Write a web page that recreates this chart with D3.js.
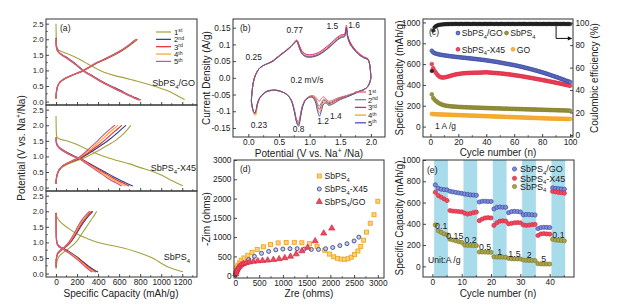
<!DOCTYPE html>
<html><head><meta charset="utf-8">
<script src="https://cdn.jsdelivr.net/npm/d3@7"></script>
<style>
body{margin:0;background:#fff}
svg{display:block}
text{font-family:"Liberation Sans",Arial,Helvetica,sans-serif;fill:#222}
</style>
</head><body>
<svg id="chart" width="627" height="306"></svg>
<script>
// ================= DATA =================
// (a) galvanostatic curves: [capacity mAh/g, potential V], cycles 1..5
const cycleNames = ["1{^st}","2{^nd}","3{^rd}","4{^th}","5{^th}"];
const aSubLabels = ["SbPS{_4}/GO","SbPS{_4}-X45","SbPS{_4}"];
const aCapTicks = [0,200,400,600,800,1000,1200];
const aVTicks = [0,0.5,1,1.5,2,2.5];

const aGOdis = [
 [[0,2.5],[2,2.1],[6,1.8],[20,1.67],[60,1.6],[120,1.52],[200,1.4],[280,1.25],[360,1.1],[450,0.95],[550,0.84],[650,0.76],[740,0.68],[850,0.58],[960,0.47],[1050,0.36],[1120,0.25],[1180,0.14],[1222,0.06]],
 [[0,2.05],[3,1.8],[10,1.68],[25,1.6],[60,1.5],[100,1.42],[150,1.3],[200,1.17],[260,1.0],[330,0.86],[420,0.68],[510,0.52],[610,0.36],[700,0.2],[760,0.12],[805,0.05]],
 [[0,2.0],[3,1.78],[10,1.67],[25,1.59],[60,1.49],[100,1.41],[150,1.29],[200,1.16],[260,0.99],[330,0.85],[420,0.67],[510,0.51],[605,0.35],[695,0.2],[755,0.11],[800,0.05]],
 [[0,2.0],[3,1.78],[10,1.66],[25,1.58],[60,1.49],[100,1.4],[150,1.28],[200,1.15],[260,0.99],[330,0.84],[415,0.67],[505,0.51],[600,0.35],[690,0.2],[750,0.11],[795,0.05]],
 [[0,1.98],[3,1.77],[10,1.66],[25,1.58],[60,1.48],[100,1.4],[150,1.28],[200,1.15],[255,0.99],[325,0.84],[410,0.67],[500,0.51],[595,0.35],[685,0.2],[745,0.11],[790,0.05]]
];
const aGOchg = [
 [[0,0.1],[3,0.25],[10,0.42],[30,0.58],[70,0.7],[130,0.8],[200,0.9],[260,0.98],[330,1.12],[400,1.25],[480,1.37],[560,1.5],[625,1.62],[690,1.77],[740,1.9],[775,2.0]],
 [[0,0.1],[3,0.26],[10,0.43],[30,0.59],[70,0.71],[130,0.81],[200,0.91],[260,0.99],[330,1.13],[400,1.26],[480,1.38],[555,1.51],[620,1.63],[685,1.78],[735,1.91],[770,2.0]],
 [[0,0.1],[3,0.26],[10,0.43],[30,0.59],[70,0.71],[130,0.81],[200,0.91],[258,0.99],[328,1.13],[398,1.26],[476,1.38],[552,1.51],[617,1.63],[682,1.78],[732,1.91],[767,2.0]],
 [[0,0.1],[3,0.26],[10,0.43],[30,0.59],[70,0.71],[130,0.81],[198,0.91],[256,0.99],[326,1.13],[395,1.26],[473,1.38],[549,1.51],[614,1.63],[679,1.78],[729,1.91],[764,2.0]],
 [[0,0.1],[3,0.26],[10,0.43],[30,0.59],[70,0.71],[128,0.81],[196,0.91],[254,0.99],[324,1.13],[393,1.26],[470,1.38],[546,1.51],[611,1.63],[676,1.78],[726,1.91],[761,2.0]]
];
const aX45dis = [
 [[0,2.3],[2,1.9],[6,1.65],[20,1.58],[100,1.5],[200,1.38],[300,1.22],[400,1.07],[500,0.95],[600,0.85],[700,0.76],[800,0.64],[900,0.54],[1000,0.4],[1080,0.26],[1150,0.14],[1206,0.06]],
 [[0,1.62],[5,1.44],[20,1.33],[60,1.22],[120,1.1],[180,1.0],[240,0.92],[310,0.79],[390,0.64],[470,0.49],[550,0.34],[630,0.2],[690,0.11],[730,0.05]],
 [[0,1.6],[5,1.42],[20,1.32],[60,1.21],[120,1.09],[180,0.99],[235,0.92],[300,0.79],[375,0.64],[450,0.49],[525,0.34],[600,0.2],[660,0.11],[695,0.05]],
 [[0,1.6],[5,1.41],[20,1.31],[60,1.2],[120,1.08],[175,0.99],[230,0.92],[290,0.79],[360,0.64],[430,0.49],[500,0.34],[570,0.2],[625,0.11],[660,0.05]],
 [[0,1.58],[5,1.4],[20,1.3],[60,1.19],[115,1.08],[170,0.99],[225,0.92],[280,0.79],[345,0.64],[410,0.49],[475,0.34],[540,0.2],[595,0.11],[625,0.05]]
];
const aX45chg = [
 [[0,0.12],[5,0.3],[20,0.48],[50,0.62],[100,0.73],[170,0.83],[240,0.92],[320,1.04],[400,1.18],[480,1.34],[560,1.5],[620,1.66],[670,1.83],[711,2.0]],
 [[0,0.12],[5,0.32],[20,0.5],[50,0.65],[100,0.76],[170,0.86],[230,0.94],[300,1.07],[370,1.22],[440,1.38],[510,1.55],[570,1.72],[620,1.87],[665,2.0]],
 [[0,0.12],[5,0.32],[20,0.5],[50,0.65],[100,0.76],[165,0.86],[225,0.95],[290,1.08],[355,1.24],[420,1.4],[480,1.57],[535,1.74],[585,1.88],[625,2.0]],
 [[0,0.12],[5,0.32],[20,0.5],[50,0.65],[100,0.77],[160,0.87],[220,0.96],[280,1.1],[340,1.26],[400,1.43],[455,1.6],[505,1.76],[550,1.89],[590,2.0]],
 [[0,0.12],[5,0.33],[20,0.51],[50,0.66],[100,0.77],[155,0.87],[215,0.97],[270,1.11],[325,1.28],[380,1.45],[430,1.62],[480,1.78],[522,1.9],[560,2.0]]
];
const aSdis = [
 [[0,1.95],[5,1.85],[20,1.75],[60,1.6],[120,1.45],[200,1.27],[300,1.12],[420,0.98],[530,0.9],[640,0.82],[760,0.7],[860,0.58],[940,0.46],[1000,0.33],[1060,0.22],[1130,0.13],[1206,0.06]],
 [[0,1.95],[1,1.6],[3,1.2],[8,1.02],[20,0.92],[50,0.84],[90,0.77],[140,0.67],[200,0.53],[260,0.37],[320,0.21],[370,0.1],[400,0.05]],
 [[0,1.93],[1,1.58],[3,1.18],[8,1.0],[20,0.91],[50,0.83],[90,0.76],[135,0.66],[190,0.53],[250,0.37],[305,0.21],[352,0.1],[380,0.05]],
 [[0,1.92],[1,1.57],[3,1.17],[8,1.0],[20,0.9],[50,0.82],[85,0.75],[130,0.66],[185,0.53],[240,0.37],[295,0.21],[340,0.1],[365,0.05]],
 [[0,1.9],[1,1.55],[3,1.15],[8,0.98],[20,0.89],[50,0.81],[85,0.74],[125,0.65],[175,0.52],[230,0.37],[280,0.21],[322,0.1],[345,0.05]]
];
const aSchg = [
 [[0,0.15],[10,0.4],[30,0.55],[60,0.65],[100,0.75],[150,0.88],[200,1.05],[250,1.3],[300,1.55],[340,1.75],[370,1.9],[387,2.0]],
 [[0,0.2],[3,0.45],[15,0.62],[40,0.72],[80,0.82],[130,0.97],[180,1.2],[230,1.48],[270,1.68],[310,1.85],[350,2.0]],
 [[0,0.22],[3,0.46],[15,0.63],[40,0.73],[80,0.83],[128,0.98],[176,1.22],[224,1.5],[262,1.7],[300,1.86],[340,2.0]],
 [[0,0.24],[3,0.47],[15,0.64],[40,0.74],[80,0.84],[125,1.0],[172,1.24],[218,1.52],[255,1.71],[292,1.87],[330,2.0]],
 [[0,0.26],[3,0.48],[15,0.65],[40,0.75],[78,0.85],[122,1.01],[168,1.26],[212,1.54],[248,1.73],[285,1.88],[320,2.0]]
];

// (b) cyclic voltammetry
const cvVTicks = [0,0.5,1,1.5,2];
const cvVTickLabels = ["0.0","0.5","1.0","1.5","2.0"];
const cvITicks = [-0.15,-0.1,-0.05,0,0.05,0.1,0.15];
const cvITickLabels = ["-0.15","-0.1","-0.05","0.0","0.05","0.1","0.15"];
const cvUpV = [0.05,0.06,0.08,0.12,0.19,0.28,0.38,0.52,0.62,0.7,0.75,0.79,0.83,0.88,0.95,1.05,1.15,1.25,1.35,1.45,1.52,1.57,1.6,1.62,1.66,1.72,1.8,1.88,1.95,1.98,2.0];
const cvUpI = [
 [-0.07,-0.045,-0.015,0.01,0.03,0.04,0.048,0.068,0.082,0.095,0.105,0.112,0.095,0.075,0.066,0.066,0.072,0.085,0.1,0.118,0.126,0.13,0.158,0.125,0.105,0.088,0.072,0.062,0.056,0.04,0.0],
 [-0.07,-0.045,-0.015,0.01,0.03,0.04,0.048,0.068,0.082,0.095,0.105,0.11,0.092,0.072,0.064,0.064,0.07,0.082,0.097,0.115,0.123,0.125,0.145,0.124,0.102,0.086,0.07,0.061,0.055,0.04,0.0],
 [-0.07,-0.045,-0.015,0.01,0.03,0.04,0.049,0.069,0.083,0.096,0.106,0.113,0.098,0.079,0.07,0.07,0.076,0.089,0.104,0.121,0.129,0.13,0.152,0.128,0.107,0.09,0.074,0.063,0.057,0.04,0.0],
 [-0.07,-0.045,-0.015,0.01,0.03,0.04,0.047,0.067,0.081,0.094,0.104,0.108,0.09,0.07,0.062,0.062,0.068,0.08,0.095,0.112,0.12,0.122,0.135,0.12,0.1,0.085,0.07,0.06,0.054,0.04,0.0],
 [-0.068,-0.044,-0.015,0.01,0.03,0.04,0.047,0.067,0.081,0.094,0.104,0.109,0.091,0.071,0.063,0.063,0.069,0.081,0.096,0.113,0.121,0.124,0.148,0.122,0.101,0.086,0.07,0.06,0.055,0.04,0.0]
];
const cvLoV = [2.0,1.98,1.94,1.88,1.8,1.7,1.6,1.5,1.42,1.36,1.31,1.27,1.23,1.19,1.16,1.13,1.09,1.04,0.98,0.93,0.88,0.85,0.82,0.79,0.75,0.7,0.63,0.55,0.46,0.38,0.3,0.24,0.19,0.15,0.12,0.1,0.08,0.06,0.05];
const cvLoI = [
 [0.0,-0.015,-0.028,-0.035,-0.04,-0.047,-0.053,-0.058,-0.063,-0.068,-0.07,-0.064,-0.057,-0.062,-0.07,-0.066,-0.056,-0.053,-0.057,-0.065,-0.085,-0.11,-0.13,-0.125,-0.095,-0.065,-0.05,-0.042,-0.038,-0.038,-0.042,-0.05,-0.06,-0.08,-0.105,-0.108,-0.1,-0.085,-0.07],
 [0.0,-0.015,-0.028,-0.035,-0.041,-0.048,-0.055,-0.06,-0.066,-0.072,-0.074,-0.068,-0.064,-0.075,-0.085,-0.077,-0.061,-0.055,-0.058,-0.066,-0.087,-0.114,-0.135,-0.128,-0.097,-0.066,-0.05,-0.042,-0.038,-0.038,-0.041,-0.049,-0.059,-0.078,-0.103,-0.107,-0.099,-0.084,-0.069],
 [0.0,-0.015,-0.028,-0.036,-0.041,-0.049,-0.056,-0.062,-0.069,-0.075,-0.077,-0.07,-0.068,-0.084,-0.094,-0.085,-0.064,-0.056,-0.059,-0.067,-0.088,-0.117,-0.14,-0.131,-0.098,-0.067,-0.05,-0.042,-0.037,-0.037,-0.041,-0.049,-0.059,-0.077,-0.102,-0.106,-0.099,-0.083,-0.069],
 [0.0,-0.015,-0.028,-0.036,-0.042,-0.05,-0.057,-0.064,-0.072,-0.078,-0.08,-0.073,-0.073,-0.092,-0.104,-0.092,-0.067,-0.057,-0.059,-0.067,-0.089,-0.118,-0.138,-0.132,-0.099,-0.067,-0.05,-0.042,-0.037,-0.037,-0.04,-0.048,-0.058,-0.076,-0.112,-0.11,-0.1,-0.083,-0.068],
 [0.0,-0.015,-0.028,-0.036,-0.042,-0.05,-0.058,-0.065,-0.074,-0.08,-0.082,-0.075,-0.078,-0.1,-0.115,-0.1,-0.07,-0.058,-0.06,-0.068,-0.09,-0.12,-0.145,-0.135,-0.1,-0.068,-0.05,-0.042,-0.037,-0.037,-0.04,-0.048,-0.058,-0.075,-0.1,-0.105,-0.098,-0.082,-0.068]
];

// (c) cycling at 1 A/g, cycles 1..100
const cyTicks = [0,20,40,60,80,100];
const capTicks = [0,200,400,600,800,1000];
const ceTicks = [0,20,40,60,80,100];
const cycGO = [728,712,705,700,697,693,690,688,686,684,682,680,678,676,675,673,671,670,668,667,665,664,662,661,660,658,657,655,654,652,651,649,648,646,645,643,641,640,638,636,634,632,630,628,626,624,622,620,617,615,612,610,607,605,602,600,597,595,592,590,587,584,581,578,575,572,568,565,562,558,555,551,548,544,540,537,533,529,525,521,517,513,508,504,499,495,490,486,481,476,472,467,462,457,452,447,442,437,433,428];
const cycX45 = [600,560,535,515,498,485,476,472,471,472,475,478,482,486,490,494,497,500,503,505,507,509,511,512,513,514,515,515,516,516,517,517,517,518,518,519,519,520,521,522,521,519,518,517,516,515,514,513,512,511,509,508,506,505,503,502,500,498,496,494,492,490,488,486,484,482,479,477,475,472,470,468,465,463,460,458,455,453,450,448,445,443,440,437,435,432,429,427,424,421,418,416,413,410,407,404,401,398,395,392];
const cycS = [310,275,258,245,235,226,219,213,208,204,201,199,197,195,194,193,192,191,190,189,188,188,187,186,186,185,185,184,184,183,183,182,182,181,181,180,180,179,179,178,178,177,177,176,176,175,175,175,174,174,173,173,172,172,172,171,171,170,170,170,169,169,168,168,168,167,167,166,166,166,165,165,164,164,164,163,163,162,162,162,161,161,160,160,160,159,159,158,158,158,157,157,156,156,156,155,155,154,154,153];
const cycGOonly = [122,120,119,118,118,117,117,116,116,115,115,114,114,113,113,112,112,111,111,110,110,109,109,108,108,107,107,106,106,105,105,104,104,103,103,102,102,101,101,100,100,99,99,98,98,97,97,96,96,95,95,94,94,93,93,92,92,91,91,90,90,89,89,88,88,87,87,86,86,85,85,84,84,83,83,82,82,81,81,80,80,79,79,78,78,77,77,77,76,76,76,75,75,75,74,74,74,73,73,73];
const cycCE = [57,93,96,97,97.6,98,98.2,98.4,98.5,98.6,98.7,98.8,98.7,98.9,98.8,98.9,98.8,99,98.9,98.8,98.9,99,98.9,98.8,99,98.9,99,98.9,98.8,98.9,99,98.9,98.9,98.8,99,98.9,98.8,98.9,99,98.9,98.8,98.9,99,98.9,98.9,98.8,99,98.9,98.8,98.9,99,98.9,98.8,98.9,98.9,99,98.8,98.9,99,98.9,98.8,98.9,98.9,99,98.8,98.9,99,98.9,98.8,98.9,98.9,99,98.8,98.9,98.9,99,98.8,98.9,98.9,98.8,99,98.9,98.8,98.9,99,98.9,98.8,98.9,98.9,99,98.8,98.9,98.9,98.8,99,98.9,98.8,98.9,98.9,98.8];

// (d) Nyquist plots: [Zre, -Zim] in ohms
const zTicks = [0,500,1000,1500,2000,2500,3000];
const eisS = [[5,50],[15,120],[30,200],[50,260],[80,330],[120,400],[180,460],[260,530],[350,600],[460,680],[590,750],[740,810],[900,850],[1070,860],[1240,865],[1400,855],[1560,830],[1720,760],[1880,660],[1980,560],[2070,490],[2150,450],[2230,430],[2300,425],[2370,440],[2440,480],[2510,550],[2580,640],[2640,760],[2700,920],[2760,1130],[2840,1360],[2920,1580],[3000,1930]];
const eisX45 = [[5,30],[20,80],[50,150],[100,230],[180,320],[280,420],[400,500],[550,580],[700,630],[850,670],[1000,690],[1150,700],[1300,700],[1450,690],[1600,680],[1750,680],[1900,700],[2050,730],[2200,780],[2350,830],[2500,900],[2600,1000]];
const eisGO = [[5,40],[15,90],[30,140],[50,190],[80,240],[120,280],[170,310],[230,335],[300,355],[380,370],[470,380],[570,390],[680,400],[800,415],[920,435],[1040,460],[1160,500],[1280,560],[1400,640],[1520,730],[1680,900],[1860,1100],[2030,1230]];

// (e) rate capability, 5 cycles per current density
const rateCurrents = ["0.1","0.15","0.2","0.5","1","1.5","2","5","0.1"];
const rateXTicks = [0,10,20,30,40];
const rateYTicks = [0,200,400,600,800,1000];
const rateGO = [766,734,725,722,719, 706,700,695,690,686, 680,676,672,670,668, 605,612,612,610,610, 540,555,558,556,555, 505,515,517,515,512, 485,488,487,485,483, 355,365,367,366,365, 738,733,730,728,725];
const rateX45 = [697,666,650,634,619, 525,520,518,515,513, 500,492,497,505,510, 430,445,455,458,455, 385,410,425,428,425, 400,405,410,412,410, 390,385,388,392,395, 290,305,308,305,303, 705,700,695,692,688];
const rateS = [390,335,320,305,297, 255,248,240,232,225, 200,198,197,196,195, 135,135,134,133,132, 90,88,87,87,86, 75,72,71,70,70, 60,57,56,55,55, 25,23,22,22,22, 255,248,245,243,240];
const rateBands = [[0.6,5.3],[10.6,15.3],[20.6,25.3],[30.6,35.3],[40.6,45.3]];

// ================= DRAWING =================
const svg = d3.select("#chart");
const FS_TICK = 8.3, FS_TITLE = 10, FS_LEG = 8.6;
const INK = "#333";

function rich(t, str, fs, supK){
  const re=/\{([_^])([^}]*)\}/g; let last=0,m; const parts=[];
  while((m=re.exec(str))){ if(m.index>last) parts.push({t:str.slice(last,m.index),k:""}); parts.push({t:m[2],k:m[1]}); last=re.lastIndex; }
  if(last<str.length) parts.push({t:str.slice(last),k:""});
  let shift=0;
  parts.forEach(p=>{
    const ts=t.append("tspan").text(p.t);
    const target = p.k==="_"? fs*0.28 : p.k==="^"? -fs*(supK||0.42) : 0;
    const dy=target-shift; if(dy) ts.attr("dy",dy.toFixed(2)); shift=target;
    if(p.k) ts.attr("font-size",(fs*0.66).toFixed(2));
  });
}
function label(g,x,y,str,o={}){
  const fs=o.fs||FS_LEG;
  const t=g.append("text").attr("x",x).attr("y",y).attr("font-size",fs).attr("text-anchor",o.anchor||"start");
  if(o.rot) t.attr("transform",`rotate(${o.rot},${x},${y})`);
  rich(t,str,fs,o.supK); return t;
}
function styleAxis(g,fs){
  g.select(".domain").remove();
  g.selectAll("line").attr("stroke",INK).attr("stroke-width",0.9);
  g.selectAll("text").attr("font-size",fs||FS_TICK).attr("fill","#222").style("font-family",'"Liberation Sans",Arial,sans-serif');
}
function frame(x0,y0,x1,y1){
  svg.append("rect").attr("x",x0).attr("y",y0).attr("width",x1-x0).attr("height",y1-y0)
    .attr("fill","none").attr("stroke",INK).attr("stroke-width",1);
}
function minor(g,scale,vals,orient,pos,len){
  vals.forEach(v=>{
    const p=scale(v);
    if(orient==="bottom") g.append("line").attr("x1",p).attr("x2",p).attr("y1",pos).attr("y2",pos-len).attr("stroke",INK).attr("stroke-width",0.8);
    else if(orient==="left") g.append("line").attr("y1",p).attr("y2",p).attr("x1",pos).attr("x2",pos+len).attr("stroke",INK).attr("stroke-width",0.8);
  });
}

// ---------- (a) ----------
const aColors = ["#a3a23e","#2e3a8f","#e8262b","#f5a623","#d0508a"];
const aX = d3.scaleLinear().domain([-95,1340]).range([46,197]);
const aPanels = [
  {y0:19,y1:105,dis:aGOdis,chg:aGOchg},
  {y0:105,y1:191,dis:aX45dis,chg:aX45chg},
  {y0:191,y1:277,dis:aSdis,chg:aSchg}
];
const lineA = (ys)=>d3.line().x(d=>aX(d[0])).y(d=>ys(d[1])).curve(d3.curveMonotoneX);
aPanels.forEach((p,i)=>{
  const ys = d3.scaleLinear().domain([-0.11,2.65]).range([p.y1,p.y0]);
  const g=svg.append("g");
  for(let c=0;c<5;c++){
    g.append("path").attr("d",lineA(ys)(p.dis[c])).attr("fill","none").attr("stroke",aColors[c]).attr("stroke-width",1.1);
    g.append("path").attr("d",lineA(ys)(p.chg[c])).attr("fill","none").attr("stroke",aColors[c]).attr("stroke-width",1.1);
  }
  const gy=svg.append("g").attr("transform","translate(46,0)")
    .call(d3.axisLeft(ys).tickValues(aVTicks).tickFormat(d3.format(".1f")).tickSize(-3).tickPadding(2.5));
  styleAxis(gy,7.8);
  minor(svg,ys,[0.25,0.75,1.25,1.75,2.25],"left",46,1.8);
  const gx=svg.append("g").attr("transform",`translate(0,${p.y1})`)
    .call(d3.axisBottom(aX).tickValues(aCapTicks).tickFormat(i===2?d3.format("d"):"").tickSize(-3).tickPadding(2.5));
  styleAxis(gx);
  minor(svg,aX,[100,300,500,700,900,1100,1300],"bottom",p.y1,1.8);
});
frame(46,19,197,105); frame(46,105,197,191); frame(46,191,197,277);
label(svg,60,31,"(a)",{fs:8.6});
label(svg,195,86,aSubLabels[0],{fs:9,anchor:"end"});
label(svg,196,171,aSubLabels[1],{fs:9,anchor:"end"});
label(svg,190,260,aSubLabels[2],{fs:9,anchor:"end"});
cycleNames.forEach((n,i)=>{
  const y=32+i*7.35;
  svg.append("line").attr("x1",156).attr("x2",171).attr("y1",y).attr("y2",y).attr("stroke",aColors[i]).attr("stroke-width",1.2);
  label(svg,174,y+2.8,n,{fs:7.8,supK:0.3});
});
label(svg,25,148,"Potential (V vs. Na{^+}/Na)",{fs:FS_TITLE,anchor:"middle",rot:-90});
label(svg,121,297,"Specific Capacity (mAh/g)",{fs:FS_TITLE,anchor:"middle"});

// ---------- (b) ----------
const bColors = ["#ec5b72","#6f8f80","#e3216c","#f2a623","#5450b4"];
const bX = d3.scaleLinear().domain([-0.25,2.23]).range([233,385]);
const bY = d3.scaleLinear().domain([-0.177,0.176]).range([137,19]);
const cvLine = d3.line().x(d=>bX(d[0])).y(d=>bY(d[1])).curve(d3.curveCatmullRom.alpha(0.5));
for(let c=0;c<5;c++){
  const pts = cvLoV.map((v,k)=>[v,cvLoI[c][k]]).concat(cvUpV.map((v,k)=>[v,cvUpI[c][k]]).slice(1));
  svg.append("path").attr("d",cvLine(pts)).attr("fill","none").attr("stroke",bColors[c]).attr("stroke-width",1);
}
{
  const gy=svg.append("g").attr("transform","translate(233,0)")
    .call(d3.axisLeft(bY).tickValues(cvITicks).tickFormat((d,i)=>cvITickLabels[i]).tickSize(-3).tickPadding(2.5));
  styleAxis(gy);
  const gx=svg.append("g").attr("transform","translate(0,137)")
    .call(d3.axisBottom(bX).tickValues(cvVTicks).tickFormat((d,i)=>cvVTickLabels[i]).tickSize(-3).tickPadding(2.5));
  styleAxis(gx);
  minor(svg,bX,[0.25,0.75,1.25,1.75],"bottom",137,1.8);
}
frame(233,19,385,137);
label(svg,240,31,"(b)",{fs:8.6});
[["0.25",0.25,0.038,-10,-5],["0.77",0.79,0.112,-2,-7],["1.5",1.5,0.13,-8,-5],["1.6",1.61,0.158,7,3],
 ["0.23",0.14,-0.11,2,13],["0.8",0.82,-0.145,0,6],["1.2",1.17,-0.1,3,13],["1.4",1.33,-0.08,6,14]].forEach(a=>{
  svg.append("text").attr("x",bX(a[1])+a[3]).attr("y",bY(a[2])+a[4]).attr("text-anchor","middle").attr("font-size",8.4).text(a[0]);
});
svg.append("text").attr("x",307).attr("y",83).attr("text-anchor","middle").attr("font-size",8.4).text("0.2 mV/s");
cycleNames.forEach((n,i)=>{
  const y=92+i*7.7;
  svg.append("line").attr("x1",355).attr("x2",366).attr("y1",y).attr("y2",y).attr("stroke",bColors[i]).attr("stroke-width",1.3);
  label(svg,368,y+2.8,n,{fs:7.6,supK:0.3});
});
label(svg,210,78,"Current Density (A/g)",{fs:FS_TITLE,anchor:"middle",rot:-90});
label(svg,309,157,"Potential (V vs. Na{^+} /Na)",{fs:FS_TITLE,anchor:"middle"});

// ---------- (c) ----------
const cX = d3.scaleLinear().domain([-5.3,102.1]).range([423,573]);
const cY = d3.scaleLinear().domain([-100,1033]).range([137,19]);
const cYR = d3.scaleLinear().domain([-1.8,103.3]).range([137,19]);
const cycIdx = d3.range(1,101);
const cSeries = [
  {v:cycGOonly,fill:"#f9b43a",stroke:"#f0a020"},
  {v:cycS,fill:"#9d9840",stroke:"#7f7a2a"},
  {v:cycX45,fill:"#ee4a5e",stroke:"#d92a45"},
  {v:cycGO,fill:"#6f7cc8",stroke:"#2f3f98"}
];
cSeries.forEach(s=>{
  svg.append("g").selectAll("circle").data(s.v).join("circle")
    .attr("cx",(d,i)=>cX(cycIdx[i])).attr("cy",d=>cY(d)).attr("r",1.9)
    .attr("fill",s.fill).attr("stroke",s.stroke).attr("stroke-width",0.6);
});
svg.append("g").selectAll("circle").data(cycCE).join("circle")
  .attr("cx",(d,i)=>cX(cycIdx[i])).attr("cy",d=>cYR(d)).attr("r",1.8)
  .attr("fill","#2a2a2a").attr("stroke","#111").attr("stroke-width",0.5);
{
  const gy=svg.append("g").attr("transform","translate(423,0)")
    .call(d3.axisLeft(cY).tickValues(capTicks).tickFormat(d3.format("d")).tickSize(-3).tickPadding(2.5));
  styleAxis(gy);
  const gr=svg.append("g").attr("transform","translate(573,0)")
    .call(d3.axisRight(cYR).tickValues(ceTicks).tickFormat(d3.format("d")).tickSize(-3).tickPadding(2.5));
  styleAxis(gr);
  const gx=svg.append("g").attr("transform","translate(0,137)")
    .call(d3.axisBottom(cX).tickValues(cyTicks).tickFormat(d3.format("d")).tickSize(-3).tickPadding(2.5));
  styleAxis(gx);
  minor(svg,cX,[10,30,50,70,90],"bottom",137,1.8);
}
frame(423,19,573,137);
{
  const ax=cX(90), ay1=cYR(97), ay2=cYR(86);
  svg.append("path").attr("d",`M${ax},${ay1}V${ay2}H${cX(100.5)}`).attr("fill","none").attr("stroke","#111").attr("stroke-width",1);
  const hx=cX(101.6);
  svg.append("path").attr("d",`M${hx},${ay2}l-4.5,-2.2v4.4z`).attr("fill","#111");
}
label(svg,429,35,"(c)",{fs:8.6});
[[458,33,"#6f7cc8","#2f3f98","SbPS{_4}/GO"],[506.5,33,"#9d9840","#7f7a2a","SbPS{_4}"],
 [458,49.3,"#ee4a5e","#d92a45","SbPS{_4}-X45"],[513,49.3,"#f9b43a","#f0a020","GO"]].forEach(l=>{
  svg.append("circle").attr("cx",l[0]).attr("cy",l[1]).attr("r",1.9).attr("fill",l[2]).attr("stroke",l[3]).attr("stroke-width",0.8);
  label(svg,l[0]+3.8,l[1]+3.2,l[4],{fs:FS_LEG});
});
svg.append("text").attr("x",435).attr("y",129).attr("font-size",8.4).text("1 A /g");
label(svg,403,78,"Specific Capacity (mAh/g)",{fs:FS_TITLE,anchor:"middle",rot:-90});
label(svg,598,78,"Coulombic efficiency (%)",{fs:FS_TITLE,anchor:"middle",rot:-90});
label(svg,498,156,"Cycle number (n)",{fs:FS_TITLE,anchor:"middle"});

// ---------- (d) ----------
const dX = d3.scaleLinear().domain([-30,3130]).range([234,384]);
const dY = d3.scaleLinear().domain([-60,3000]).range([278,160]);
svg.append("g").selectAll("rect").data(eisS).join("rect")
  .attr("x",d=>dX(d[0])-2).attr("y",d=>dY(d[1])-2).attr("width",4).attr("height",4)
  .attr("fill","#fbd27a").attr("stroke","#efa526").attr("stroke-width",0.9);
svg.append("g").selectAll("circle").data(eisX45).join("circle")
  .attr("cx",d=>dX(d[0])).attr("cy",d=>dY(d[1])).attr("r",2)
  .attr("fill","#c5cbe6").attr("stroke","#3d4a8e").attr("stroke-width",0.9);
const tri = d3.symbol().type(d3.symbolTriangle).size(16);
svg.append("g").selectAll("path").data(eisGO).join("path")
  .attr("transform",d=>`translate(${dX(d[0])},${dY(d[1])})`).attr("d",tri())
  .attr("fill","#ef4a5c").attr("stroke","#d81f3e").attr("stroke-width",0.7);
{
  const gy=svg.append("g").attr("transform","translate(234,0)")
    .call(d3.axisLeft(dY).tickValues(zTicks).tickFormat(d3.format("d")).tickSize(-3).tickPadding(2.5));
  styleAxis(gy);
  const gx=svg.append("g").attr("transform","translate(0,278)")
    .call(d3.axisBottom(dX).tickValues(zTicks).tickFormat(d3.format("d")).tickSize(-3).tickPadding(2.5));
  styleAxis(gx);
  minor(svg,dX,[250,750,1250,1750,2250,2750],"bottom",278,1.8);
}
frame(234,160,384,278);
label(svg,240,172,"(d)",{fs:8.6});
svg.append("rect").attr("x",317.3).attr("y",174).attr("width",4).attr("height",4).attr("fill","#fbd27a").attr("stroke","#efa526").attr("stroke-width",0.9);
svg.append("circle").attr("cx",319.3).attr("cy",189).attr("r",2).attr("fill","#c5cbe6").attr("stroke","#3d4a8e").attr("stroke-width",0.9);
svg.append("path").attr("transform","translate(319.3,201.7)").attr("d",tri()).attr("fill","#ef4a5c").attr("stroke","#d81f3e").attr("stroke-width",0.7);
label(svg,324.5,179.2,"SbPS{_4}",{fs:FS_LEG});
label(svg,324.5,192.2,"SbPS{_4}-X45",{fs:FS_LEG});
label(svg,324.5,204.9,"SbPS{_4}/GO",{fs:FS_LEG});
label(svg,210,219,"-Zim (ohms)",{fs:FS_TITLE,anchor:"middle",rot:-90});
label(svg,309,297,"Zre (ohms)",{fs:FS_TITLE,anchor:"middle"});

// ---------- (e) ----------
const eX = d3.scaleLinear().domain([-3.2,48.3]).range([423,574]);
const eY = d3.scaleLinear().domain([-100,1000]).range([277,160]);
const rateIdx = d3.range(1,46);
svg.append("g").selectAll("rect").data(rateBands).join("rect")
  .attr("x",d=>eX(d[0])).attr("width",d=>eX(d[1])-eX(d[0])).attr("y",160).attr("height",117)
  .attr("fill","#a9dceb");
[[rateGO,"#7d8bd6","#3c4ca6"],[rateX45,"#ee4a5e","#d92a45"],[rateS,"#a9a54a","#7f7a2a"]].forEach(s=>{
  svg.append("g").selectAll("circle").data(s[0]).join("circle")
    .attr("cx",(d,i)=>eX(rateIdx[i])).attr("cy",d=>eY(d)).attr("r",2.1)
    .attr("fill",s[1]).attr("stroke",s[2]).attr("stroke-width",0.7);
});
rateCurrents.forEach((r,g)=>{
  const grp = rateS.slice(g*5,g*5+5);
  const cx = eX(d3.mean(rateIdx.slice(g*5,g*5+5)))+ (g===1?-1:0);
  svg.append("text").attr("x",cx).attr("y",eY(d3.mean(grp))-2).attr("text-anchor","middle").attr("font-size",8.8).text(r);
});
{
  const gy=svg.append("g").attr("transform","translate(423,0)")
    .call(d3.axisLeft(eY).tickValues(rateYTicks).tickFormat(d3.format("d")).tickSize(-3).tickPadding(2.5));
  styleAxis(gy);
  const gx=svg.append("g").attr("transform","translate(0,277)")
    .call(d3.axisBottom(eX).tickValues(rateXTicks).tickFormat(d3.format("d")).tickSize(-3).tickPadding(2.5));
  styleAxis(gx);
  minor(svg,eX,[5,15,25,35,45],"bottom",277,1.8);
}
frame(423,160,574,277);
label(svg,427,173,"(e)",{fs:8.6});
[[169,"#7d8bd6","#3c4ca6","SbPS{_4}/GO"],[178.3,"#ee4a5e","#d92a45","SbPS{_4}-X45"],[186.5,"#a9a54a","#7f7a2a","SbPS{_4}"]].forEach(l=>{
  svg.append("circle").attr("cx",514.5).attr("cy",l[0]).attr("r",2.1).attr("fill",l[1]).attr("stroke",l[2]).attr("stroke-width",0.7);
  label(svg,520,l[0]+3.2,l[3],{fs:9});
});
svg.append("text").attr("x",428).attr("y",263).attr("font-size",8.6).text("Unit:A /g");
label(svg,403,218,"Specific Capacity (mAh/g)",{fs:FS_TITLE,anchor:"middle",rot:-90});
label(svg,498,297,"Cycle number (n)",{fs:FS_TITLE,anchor:"middle"});
</script>
</body></html>
